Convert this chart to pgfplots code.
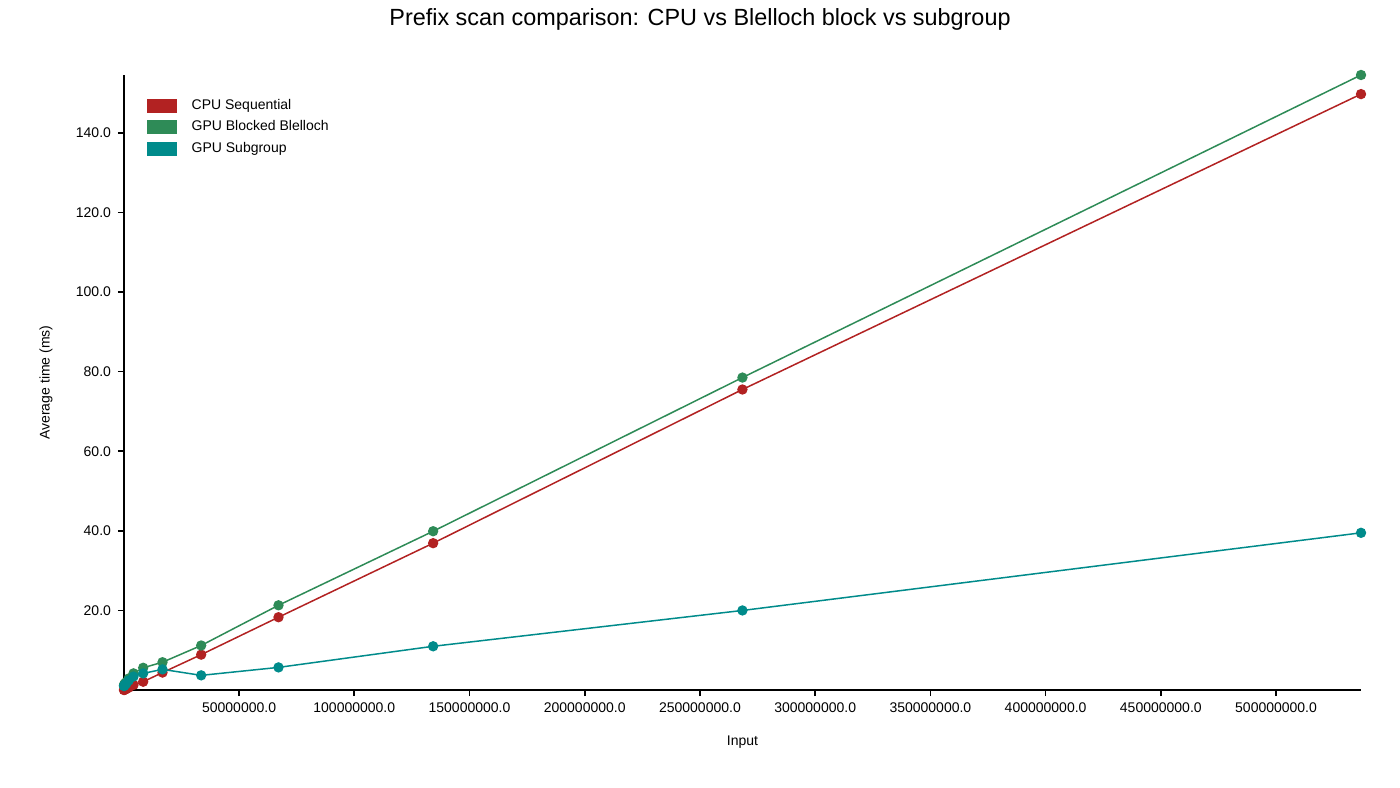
\documentclass[border=0pt]{standalone}
\usepackage{pgfplots}
\pgfplotsset{compat=1.18}
\usepackage{fontspec}
\setmainfont{Liberation Sans}

\definecolor{cpured}{RGB}{178,34,34}
\definecolor{gpugreen}{RGB}{46,139,87}
\definecolor{subteal}{RGB}{0,139,139}

% input size, CPU sequential, GPU blocked Blelloch, GPU subgroup (ms)
\pgfplotstableread{
n          cpu    blelloch  subgroup
65536      0.02   1.2       1.0
131072     0.04   1.3       1.1
262144     0.08   1.5       1.2
524288     0.15   1.7       1.4
1048576    0.3    2.0       1.6
2097152    0.6    2.9       2.4
4194304    1.3    4.2       3.4
8388608    2.1    5.6       4.2
16777216   4.4    7.0       5.2
33554432   8.9    11.2      3.7
67108864   18.3   21.3      5.7
134217728  36.9   39.9      11.0
268435456  75.5   78.5      20.0
536870912  149.7  154.5     39.5
}\scandata

\begin{document}
\begin{tikzpicture}
% page: 1400 x 787 px at 0.5pt per px
\path (0pt,0pt) rectangle (700pt,393.5pt);
\node[font=\fontsize{11.7}{14}\selectfont] at (350pt,384pt) {Prefix scan comparison: CPU vs Blelloch block vs subgroup};
\begin{axis}[
    at={(62pt,48.5pt)}, anchor=south west,
    scale only axis,
    width=618.5pt, height=307.5pt,
    xmin=65536, xmax=536870912,
    ymin=0.02, ymax=154.5,
    axis x line=bottom, axis y line=left,
    axis line style={-, line width=0.8pt},
    tick style={black, line width=0.8pt},
    tick align=outside,
    major tick length=3pt,
    scaled x ticks=false, scaled y ticks=false,
    xtick={50000000,100000000,150000000,200000000,250000000,300000000,350000000,400000000,450000000,500000000},
    xticklabels={50000000.0,100000000.0,150000000.0,200000000.0,250000000.0,300000000.0,350000000.0,400000000.0,450000000.0,500000000.0},
    ytick={20,40,60,80,100,120,140},
    yticklabels={20.0,40.0,60.0,80.0,100.0,120.0,140.0},
    ticklabel style={font=\fontsize{7}{8}\selectfont},
    xlabel={Input}, ylabel={Average time (ms)},
    label style={font=\fontsize{7}{8}\selectfont},
    xlabel style={at={(axis description cs:0.5,0)}, anchor=center, yshift=-26pt},
    ylabel style={at={(axis description cs:0,0.5)}, anchor=center, yshift=39pt},
    clip=false,
    legend style={at={(axis description cs:0.018,0.968)}, anchor=north west,
        draw=none, fill=none, font=\fontsize{7}{8}\selectfont,
        row sep=0.15pt, inner sep=0pt},
    legend cell align=left,
    legend image code/.code={\path[draw=none, fill=none] (0pt,0pt) -- (20.5pt,0pt);
        \fill[#1, draw=none] (0pt,-3.5pt) rectangle (15pt,3.5pt);},
    every axis plot/.append style={line width=0.75pt, mark=*, mark size=2.2pt},
]
\addplot[cpured, mark options={fill=cpured, draw=cpured}] table[x=n, y=cpu] {\scandata};
\addlegendentry{CPU Sequential}
\addplot[gpugreen, mark options={fill=gpugreen, draw=gpugreen}] table[x=n, y=blelloch] {\scandata};
\addlegendentry{GPU Blocked Blelloch}
\addplot[subteal, mark options={fill=subteal, draw=subteal}] table[x=n, y=subgroup] {\scandata};
\addlegendentry{GPU Subgroup}
\end{axis}
\end{tikzpicture}
\end{document}
